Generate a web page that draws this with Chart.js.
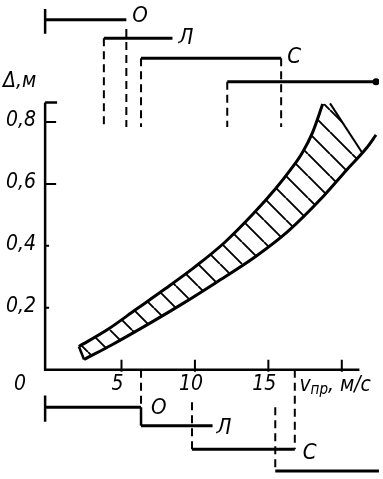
<!DOCTYPE html>
<html><head><meta charset="utf-8">
<script src="https://cdn.jsdelivr.net/npm/chart.js@4"></script>
<style>html,body{margin:0;padding:0;background:#fff}canvas{display:block}</style>
</head><body>
<canvas id="c" width="383" height="479"></canvas>
<script>
// ---- data (x: v_пр, м/с ; y: Δ, м) ----
const upperX = [2.1, 4.0, 6.0, 8.0, 10.0, 12.0, 14.0, 15.5, 16.5, 17.3, 18.0, 18.7];
const upperY = [0.075, 0.128, 0.195, 0.262, 0.332, 0.41, 0.505, 0.585, 0.645, 0.70, 0.765, 0.858];
const lowerX = [2.45, 4.33, 7.0, 9.22, 11.45, 14.11, 16.33, 18.78, 20.33, 21.67, 22.33];
const lowerY = [0.033, 0.080, 0.152, 0.215, 0.282, 0.365, 0.447, 0.562, 0.645, 0.715, 0.758];
const capX = [19.2, 21.4];
const capY = [0.86, 0.70];

const rangeLabels = ['О', 'Л', 'С', ''];
const topFrom  = [-0.2, 3.8, 6.33, 12.2];
const topTo    = [5.33, 8.47, 15.87, 22.33];
const topLevel = [1.13, 1.07, 1.006, 0.93];
const topDropX   = [3.8, 5.33, 6.33, 12.2, 15.87];
const topDropTop = [1.07, 1.10, 1.006, 0.93, 1.006];
const topDropEnd = 0.784;

const botFrom  = [-0.2, 6.33, 9.8, 15.47];
const botTo    = [6.33, 11.2, 16.8, 22.53];
const botLevel = [-0.121, -0.181, -0.257, -0.327];
const botDropX   = [6.33, 9.8, 16.8, 15.47];
const botDropTop = [0, -0.105, 0, -0.121];
const botDropEnd = [-0.121, -0.257, -0.257, -0.327];

const yTicks = [0.2, 0.4, 0.6, 0.8];
const yTickLabels = ['0,2', '0,4', '0,6', '0,8'];
const xTicks = [5, 10, 15, 20];
const xTickLabels = ['5', '10', '15', ''];
const axisX0 = -0.2, axisXEnd = 21.2, axisYEnd = 0.863;

// ---- chart ----
const FONT = '"Liberation Sans Narrow","DejaVu Sans Condensed","DejaVu Sans",sans-serif';
const canvas = document.getElementById('c');
const ctx0 = canvas.getContext('2d');

function hatch() {
  const p = 22, t = document.createElement('canvas');
  t.width = p; t.height = p;
  const g = t.getContext('2d');
  g.strokeStyle = '#000'; g.lineWidth = 1.9;
  g.beginPath();
  for (const k of [-1, 0, 1]) { g.moveTo(k * p, 0); g.lineTo(k * p + p, p); }
  g.stroke();
  return ctx0.createPattern(t, 'repeat');
}

const pts = (xs, ys) => xs.map((x, i) => ({x, y: ys[i]}));
function line(data, opt) {
  return Object.assign({data, showLine: true, borderColor: '#000', borderWidth: 3,
    pointRadius: 0, tension: 0, fill: false, borderCapStyle: 'butt'}, opt || {});
}

const datasets = [];
// hatched band (closed shape)
const lowerPart = pts(lowerX, lowerY).filter(p => p.x < capX[1]).reverse();
datasets.push(line(pts(upperX, upperY).concat(pts(capX, capY), lowerPart),
  {borderWidth: 0, borderColor: 'rgba(0,0,0,0)', fill: 'shape', backgroundColor: hatch()}));
datasets.push(line(pts(upperX, upperY), {cubicInterpolationMode: 'monotone'}));
datasets.push(line(pts(lowerX, lowerY), {cubicInterpolationMode: 'monotone'}));
datasets.push(line([{x: upperX[0], y: upperY[0]}, {x: lowerX[0], y: lowerY[0]}], {borderWidth: 2.5}));
datasets.push(line(pts(capX, capY), {borderWidth: 2}));

// top ranges
topFrom.forEach((f, i) => {
  const last = i === topFrom.length - 1;
  datasets.push(line([{x: f, y: topLevel[i]}, {x: topTo[i], y: topLevel[i]}],
    last ? {pointRadius: [0, 3.5], pointBackgroundColor: '#000', pointBorderWidth: 0} : {}));
});
datasets.push(line([{x: topFrom[0], y: topLevel[0] + 0.035}, {x: topFrom[0], y: topLevel[0] - 0.045}], {borderWidth: 2.5}));
topDropX.forEach((x, i) => datasets.push(line([{x, y: topDropTop[i]}, {x, y: topDropEnd}],
  {borderWidth: 2, borderDash: [8, 5]})));

// bottom ranges
botFrom.forEach((f, i) => datasets.push(line([{x: f, y: botLevel[i]}, {x: botTo[i], y: botLevel[i]}])));
datasets.push(line([{x: botFrom[0], y: botLevel[0] + 0.038}, {x: botFrom[0], y: botLevel[0] - 0.047}], {borderWidth: 2.5}));
datasets.push(line([{x: botFrom[1], y: botLevel[0]}, {x: botFrom[1], y: botLevel[1]}], {borderWidth: 2.5}));
botDropX.forEach((x, i) => datasets.push(line([{x, y: botDropTop[i]}, {x, y: botDropEnd[i]}],
  {borderWidth: 2, borderDash: [8, 5]})));

const topLabelDy = [-4, 0, -1];
const botLabelDx = [10, 4, 8];
const botLabelDy = [1, 3, 4];

const axesPlugin = {
  id: 'axesPlugin',
  afterDatasetsDraw(chart) {
    const {ctx, scales: {x, y}} = chart;
    const X = v => x.getPixelForValue(v), Y = v => y.getPixelForValue(v);
    ctx.save();
    ctx.strokeStyle = '#000'; ctx.lineWidth = 2.5; ctx.lineCap = 'butt';
    ctx.beginPath();
    ctx.moveTo(X(axisX0), Y(axisYEnd)); ctx.lineTo(X(axisX0), Y(0)); ctx.lineTo(X(axisXEnd), Y(0));
    ctx.moveTo(X(axisX0), Y(axisYEnd)); ctx.lineTo(X(axisX0) + 12, Y(axisYEnd));
    ctx.stroke();
    ctx.lineWidth = 2;
    ctx.beginPath();
    yTicks.forEach(v => {
      const len = v >= 0.6 ? 11 : 4;
      ctx.moveTo(X(axisX0), Y(v)); ctx.lineTo(X(axisX0) + len, Y(v));
    });
    xTicks.forEach(v => { ctx.moveTo(X(v), Y(0) + 2); ctx.lineTo(X(v), Y(0) - 10); });
    ctx.stroke();

    ctx.fillStyle = '#000';
    ctx.font = 'italic 21px ' + FONT;
    ctx.textBaseline = 'middle';
    ctx.textAlign = 'right';
    yTicks.forEach((v, i) => ctx.fillText(yTickLabels[i], X(axisX0) - 9, Y(v) - 1));
    ctx.textAlign = 'center';
    xTicks.forEach((v, i) => ctx.fillText(xTickLabels[i], X(v) - 4, Y(0) + 15));
    ctx.fillText('0', X(axisX0) - 25, Y(0) + 15);
    ctx.textAlign = 'left';
    ctx.fillText('Δ,м', 3, Y(axisYEnd) - 21);
    let tx = X(axisXEnd) - 60;
    const ty = Y(0) + 16;
    ctx.fillText('v', tx, ty); tx += ctx.measureText('v').width;
    ctx.font = 'italic 15px ' + FONT;
    ctx.fillText('пр', tx, ty + 4); tx += ctx.measureText('пр').width;
    ctx.font = 'italic 21px ' + FONT;
    ctx.fillText(', м/с', tx, ty);
    ctx.font = 'italic 22px ' + FONT;
    rangeLabels.forEach((t, i) => {
      if (!t) return;
      ctx.fillText(t, X(topTo[i]) + 6, Y(topLevel[i]) + topLabelDy[i]);
      ctx.fillText(t, X(botTo[i]) + botLabelDx[i], Y(botLevel[i]) + botLabelDy[i]);
    });
    ctx.restore();
  }
};

new Chart(canvas, {
  type: 'scatter',
  data: {datasets},
  options: {
    responsive: false, animation: false, devicePixelRatio: 1,
    layout: {padding: 0},
    plugins: {legend: {display: false}, tooltip: {enabled: false}},
    scales: {
      x: {type: 'linear', min: -3, max: 22.533, display: false},
      y: {type: 'linear', min: -0.34, max: 1.181, display: false}
    }
  },
  plugins: [axesPlugin]
});
</script>
</body></html>
